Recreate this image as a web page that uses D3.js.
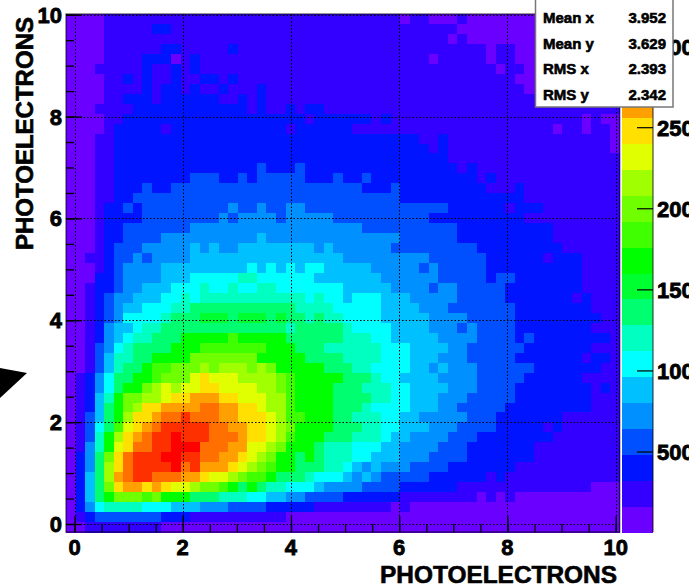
<!DOCTYPE html>
<html>
<head>
<meta charset="utf-8">
<script src="https://d3js.org/d3.v7.min.js"></script>
<style>
html, body { margin: 0; padding: 0; background: #fff; overflow: hidden; }
text { font-family: "Liberation Sans", Arial, sans-serif; font-weight: bold; fill: #000; }
</style>
</head>
<body>
<div id="chart-area"></div>
<script>
// contour colours, low to high
var palette = ["#6a00ff","#3300ff","#0014ff","#0050ff","#0090ff","#00c0ff","#00ffff","#00ffc0","#00ff70","#00ff30",
  "#00ff00","#40ff00","#70ff00","#a0ff00","#e0ff00","#ffe000","#ffa000","#ff7000","#ff3000","#ff0000"];

// contour level per bin, top row first, written as level@endColumn
var rows = [
"0@4 1@35 0@36 1@38 0@41 1@42 0@58",
"0@4 1@9 2@11 1@41 0@58",
"0@4 1@40 0@41 1@42 0@58",
"0@4 1@10 2@12 1@17 2@18 1@44 0@45 1@47 0@58",
"0@4 1@8 2@11 0@12 1@13 2@14 1@38 0@39 1@44 0@45 1@47 0@58",
"0@3 1@8 2@9 1@11 2@12 1@13 2@14 1@45 0@46 1@48 0@58",
"0@4 1@6 2@7 1@8 2@9 1@11 2@12 1@14 2@16 1@17 2@18 1@47 0@58",
"0@4 1@8 2@9 1@10 2@12 1@13 2@14 1@16 2@17 1@20 2@21 1@48 0@58",
"0@4 1@6 2@9 1@10 2@16 1@18 2@19 1@20 2@21 1@58",
"0@3 1@7 2@19 1@20 2@21 1@23 2@24 1@25 2@27 1@58",
"0@4 1@6 2@25 1@26 2@32 1@33 2@34 1@54 0@55 1@56 0@58",
"0@4 1@5 2@10 1@11 2@23 1@24 2@30 1@51 0@52 1@54 0@55 1@57 0@58",
"0@3 1@5 2@37 1@39 2@40 1@57 0@58",
"0@3 1@5 2@38 1@39 2@40 1@57 0@58",
"0@3 1@5 2@40 1@58",
"0@3 1@5 2@20 3@21 2@24 3@25 2@41 1@42 2@43 1@58",
"0@3 1@5 2@13 3@16 2@18 3@19 2@20 3@25 2@28 3@29 2@31 3@32 2@43 1@44 2@45 1@58",
"0@3 1@5 2@8 3@9 2@11 3@31 2@34 3@35 2@44 1@47 2@48 1@58",
"0@3 1@5 2@7 3@35 2@48 1@58",
"0@3 1@4 2@6 3@7 2@8 3@17 4@18 3@20 4@21 3@23 4@25 3@40 2@46 1@47 2@50 1@58",
"0@3 1@4 2@8 3@16 4@17 3@18 4@22 3@23 4@28 3@38 2@48 1@58",
"0@3 1@4 2@6 3@13 4@31 3@41 2@51 1@58",
"0@3 1@4 2@6 3@10 4@20 5@21 4@35 3@41 2@51 1@58",
"0@3 1@4 2@5 3@8 4@13 5@14 4@15 5@16 4@18 5@26 4@27 5@28 4@34 3@43 2@52 1@58",
"0@2 1@4 2@5 3@7 4@8 3@9 4@13 5@29 4@38 3@44 2@50 1@51 2@54 1@58",
"0@3 1@4 2@5 3@6 4@10 5@19 6@20 5@21 6@22 5@23 6@24 5@25 6@27 5@32 4@37 3@38 4@39 3@44 2@54 1@58",
"0@3 2@5 3@6 4@10 5@13 6@18 7@20 6@26 5@33 4@39 3@44 2@45 3@47 2@54 1@58",
"0@2 1@3 2@5 3@6 4@8 5@11 6@14 7@15 6@17 7@18 6@20 7@22 6@29 5@34 4@38 3@39 4@41 3@46 2@54 1@58",
"0@2 1@3 2@4 3@5 4@7 5@10 6@12 7@13 6@14 7@25 6@26 7@27 6@29 5@30 6@33 5@36 4@41 3@46 2@53 1@54 2@55 1@58",
"0@2 1@3 2@4 3@5 4@6 5@8 6@11 7@13 8@24 7@28 6@33 5@37 4@40 3@47 2@55 1@58",
"0@2 1@3 2@4 3@5 4@6 6@10 7@11 8@14 9@17 8@18 9@21 8@22 9@23 8@25 7@26 8@27 7@29 6@33 5@38 4@42 3@47 2@56 1@58",
"0@2 1@3 2@4 4@5 5@7 6@8 7@10 8@23 7@24 8@29 7@30 6@34 5@38 4@41 3@42 4@43 3@47 2@55 1@58",
"0@2 1@3 2@4 4@5 5@6 6@7 7@9 8@12 10@17 11@18 10@23 8@29 7@32 6@34 5@39 4@43 3@47 2@48 3@49 2@57 1@58",
"0@2 1@3 3@4 4@5 6@6 7@7 8@11 10@14 11@21 10@24 8@27 7@33 6@36 5@40 4@42 3@48 2@55 1@58",
"0@2 1@3 3@4 5@5 7@7 8@9 10@13 12@20 10@25 8@29 7@33 6@36 5@39 4@42 3@47 2@54 1@55 2@57 1@58",
"0@2 1@3 3@4 5@5 7@6 8@8 10@9 11@11 12@14 13@15 12@16 13@19 12@20 13@21 12@22 10@27 8@30 7@32 6@36 5@38 4@39 5@40 4@43 3@49 2@56 1@58",
"0@1 1@2 2@3 4@4 6@5 8@7 10@9 11@10 12@13 14@14 15@15 14@18 13@22 12@23 11@24 10@29 8@32 7@33 6@35 5@39 4@43 3@48 2@54 1@58",
"0@1 1@2 2@3 4@4 6@5 8@6 10@8 12@9 13@10 14@11 13@12 14@14 15@16 14@20 13@22 12@23 11@24 10@28 8@31 7@34 6@36 5@40 4@43 3@47 2@55 1@56 2@57 1@58",
"0@1 1@2 2@3 5@4 7@5 10@6 12@8 13@10 14@11 15@13 16@16 15@18 14@21 13@23 11@24 10@28 8@32 7@34 6@36 5@39 4@42 3@47 2@55 1@58",
"0@1 1@2 2@3 5@4 8@5 10@6 12@7 13@8 15@10 16@14 17@16 16@18 15@20 14@21 13@23 11@24 10@28 8@31 7@32 6@36 5@39 4@41 3@46 2@55 1@58",
"0@1 1@2 3@3 5@4 8@5 10@6 13@7 15@9 16@10 17@12 18@13 17@16 16@18 15@21 14@22 13@23 11@25 10@28 8@30 7@33 6@35 5@37 4@42 3@45 2@52 1@58",
"0@1 1@2 3@3 6@4 8@5 11@6 14@7 15@8 16@9 17@10 18@15 17@17 16@19 15@21 14@22 13@23 12@24 10@28 8@31 7@33 6@35 5@38 4@41 3@45 2@50 1@51 2@52 1@58",
"0@1 1@2 3@3 7@4 10@5 13@6 15@7 16@8 17@9 18@11 19@12 18@15 17@18 16@19 15@21 14@22 13@23 11@24 10@27 8@30 7@33 6@34 5@36 4@40 3@43 2@51 1@58",
"0@1 1@2 4@3 7@4 10@5 14@6 15@7 17@9 18@11 19@14 17@17 16@19 14@21 13@22 12@23 10@26 8@27 7@30 6@33 5@35 4@39 3@42 2@49 1@58",
"0@1 2@2 4@3 8@4 12@5 15@6 17@7 18@10 19@12 18@14 17@16 16@18 15@19 14@20 13@21 12@22 10@24 8@25 10@26 8@27 7@30 6@32 5@35 4@38 3@42 2@49 1@58",
"0@1 2@2 4@3 8@4 13@5 15@6 17@7 18@11 19@12 17@13 18@14 16@17 15@18 14@19 13@20 12@21 11@22 10@24 8@27 7@29 6@30 5@31 4@32 5@33 4@36 3@40 2@47 1@58",
"0@1 2@2 5@3 8@4 13@5 16@6 17@7 18@9 17@12 16@14 15@15 14@17 13@18 12@19 11@21 10@22 8@25 7@26 6@29 5@30 4@31 5@32 4@33 3@38 2@44 1@45 2@46 1@58",
"0@1 2@2 5@3 8@4 12@5 15@6 16@8 15@9 16@10 15@11 14@13 13@14 12@16 11@17 10@18 8@19 10@20 8@21 7@23 6@26 5@27 4@31 3@35 2@41 1@55 0@58",
"0@1 2@2 5@3 8@4 10@5 12@8 11@9 12@10 10@13 8@16 7@19 6@21 5@23 4@25 3@29 2@35 1@43 0@44 1@45 0@46 1@47 0@58",
"0@1 2@2 4@3 6@4 7@8 6@11 5@14 4@17 3@21 2@26 1@34 0@35 1@36 0@58",
"0@1 1@2 2@3 3@10 2@13 1@23 0@58",
"0@2 1@10 0@58"
];

var axisTitle = "PHOTOELECTRONS";
var majorTicks = [0,2,4,6,8,10];
var minorTicks = d3.range(0,21).map(d => d / 2);
var zTicks = [500,1000,1500,2000,2500,3000];
var statNames = ["Mean x","Mean y","RMS x","RMS y"];
var statValues = ["3.952","3.629","2.393","2.342"];

var plot = {left : 66,right : 619.7,top : 14,bottom : 532};
var bar = {left : 622,right : 653};

var svg = d3.select("#chart-area")
  .append("svg")
  .attr("width",689)
  .attr("height",585)
  .style("display","block");

// expand the runs into one level per column
var cells = [];
rows.forEach((row,r) => {
  var start = 0;
  row.split(" ").forEach(run => {
    var parts = run.split("@");
    d3.range(start,+parts[1]).forEach(c => cells.push({row : r,col : c,level : +parts[0]}));
    start = +parts[1];
  });
});

var colX = d3.scaleBand().domain(d3.range(58)).range([plot.left,plot.right]);
var rowY = d3.scaleBand().domain(d3.range(rows.length)).range([plot.top,plot.bottom]);
var x = d3.scaleLinear().domain([0,10]).range([74.5,615.7]);
var y = d3.scaleLinear().domain([0,10]).range([524,14.7]);
var levelY = d3.scaleBand().domain(d3.range(20)).range([plot.bottom,plot.top]);
var z = d3.scaleLinear().domain([500,2500]).range([452,127.7]);

svg.append("g").selectAll("rect").data(cells).enter().append("rect")
  .attr("x",d => colX(d.col))
  .attr("y",d => rowY(d.row))
  .attr("width",colX.bandwidth() + 0.5)
  .attr("height",rowY.bandwidth() + 0.5)
  .attr("shape-rendering","crispEdges")
  .attr("fill",d => palette[d.level]);

// dotted grid on the major ticks
var grid = svg.append("g")
  .attr("stroke","#000")
  .attr("stroke-width",1)
  .attr("stroke-dasharray","1.5,2");
grid.selectAll(".vgrid").data(majorTicks).enter().append("line")
  .attr("x1",d => Math.round(x(d)) + 0.5).attr("x2",d => Math.round(x(d)) + 0.5)
  .attr("y1",plot.top).attr("y2",plot.bottom);
grid.selectAll(".hgrid").data(majorTicks).enter().append("line")
  .attr("x1",plot.left).attr("x2",plot.right)
  .attr("y1",d => Math.round(y(d)) + 0.5).attr("y2",d => Math.round(y(d)) + 0.5);

// frame
svg.append("rect")
  .attr("x",plot.left).attr("y",plot.top)
  .attr("width",plot.right - plot.left).attr("height",plot.bottom - plot.top)
  .attr("fill","none")
  .attr("stroke","#000")
  .attr("stroke-opacity",0.55)
  .attr("stroke-width",1.5);

function drawTicks(axis,size,values,transform) {
  var g = svg.append("g").attr("transform",transform)
    .call(axis.tickValues(values).tickSize(size).tickFormat(""));
  g.select(".domain").remove();
  g.selectAll("line").attr("stroke","#000").attr("stroke-width",1.3);
  return g;
}

drawTicks(d3.axisBottom(x),-8,minorTicks,"translate(0," + plot.bottom + ")");
drawTicks(d3.axisBottom(x),-16,majorTicks,"translate(0," + plot.bottom + ")");
drawTicks(d3.axisLeft(y),-8,minorTicks,"translate(" + plot.left + ",0)");
drawTicks(d3.axisLeft(y),-16,majorTicks,"translate(" + plot.left + ",0)");

var tickFont = "22px";
svg.append("g").selectAll("text").data(majorTicks).enter().append("text")
  .attr("x",d => x(d))
  .attr("y",555)
  .attr("text-anchor","middle")
  .attr("font-size",tickFont)
  .attr("stroke","#000").attr("stroke-width",0.8)
  .text(d => d);
svg.append("g").selectAll("text").data(majorTicks).enter().append("text")
  .attr("x",62)
  .attr("y",d => y(d) + 8)
  .attr("text-anchor","end")
  .attr("font-size",tickFont)
  .attr("stroke","#000").attr("stroke-width",0.8)
  .text(d => d);

svg.append("text")
  .attr("x",380).attr("y",583)
  .attr("font-size","23px")
  .attr("textLength",237).attr("lengthAdjust","spacingAndGlyphs")
  .attr("stroke","#000").attr("stroke-width",0.6)
  .text(axisTitle);
svg.append("text")
  .attr("transform","translate(33,250) rotate(-90)")
  .attr("font-size","23px")
  .attr("textLength",233).attr("lengthAdjust","spacingAndGlyphs")
  .attr("stroke","#000").attr("stroke-width",0.6)
  .text(axisTitle);

// colour bar
svg.append("g").selectAll("rect").data(palette).enter().append("rect")
  .attr("x",bar.left)
  .attr("y",(d,i) => levelY(i))
  .attr("width",bar.right - bar.left)
  .attr("height",levelY.bandwidth() + 0.5)
  .attr("shape-rendering","crispEdges")
  .attr("fill",d => d);
svg.append("line")
  .attr("x1",bar.right).attr("x2",bar.right)
  .attr("y1",plot.top).attr("y2",plot.bottom)
  .attr("stroke","#000").attr("stroke-opacity",0.55).attr("stroke-width",1.5);
svg.append("g").selectAll("line").data(zTicks).enter().append("line")
  .attr("x1",637).attr("x2",bar.right)
  .attr("y1",d => z(d)).attr("y2",d => z(d))
  .attr("stroke","#000").attr("stroke-width",1.2);
svg.append("g").selectAll("text").data(zTicks).enter().append("text")
  .attr("x",657)
  .attr("y",d => z(d) + 8)
  .attr("font-size",tickFont)
  .attr("stroke","#000").attr("stroke-width",0.8)
  .text(d => d);

// stats box
svg.append("rect")
  .attr("x",535.5).attr("y",-2)
  .attr("width",137.5).attr("height",109)
  .attr("fill","#fff")
  .attr("stroke","#777")
  .attr("stroke-width",1.5);
var statY = d3.scalePoint().domain(statNames).range([23,100]);
svg.append("g").selectAll("text").data(statNames).enter().append("text")
  .attr("x",543)
  .attr("y",d => statY(d))
  .attr("font-size","15px")
  .attr("stroke","#000").attr("stroke-width",0.6)
  .text(d => d);
svg.append("g").selectAll("text").data(statValues).enter().append("text")
  .attr("x",666)
  .attr("y",(d,i) => statY(statNames[i]))
  .attr("text-anchor","end")
  .attr("font-size","15px")
  .attr("stroke","#000").attr("stroke-width",0.6)
  .text(d => d);

// black arrow head at the left edge
svg.append("path")
  .attr("d",d3.line()([[0,368],[27,373],[0,398]]) + "Z")
  .attr("fill","#000");
</script>
</body>
</html>
